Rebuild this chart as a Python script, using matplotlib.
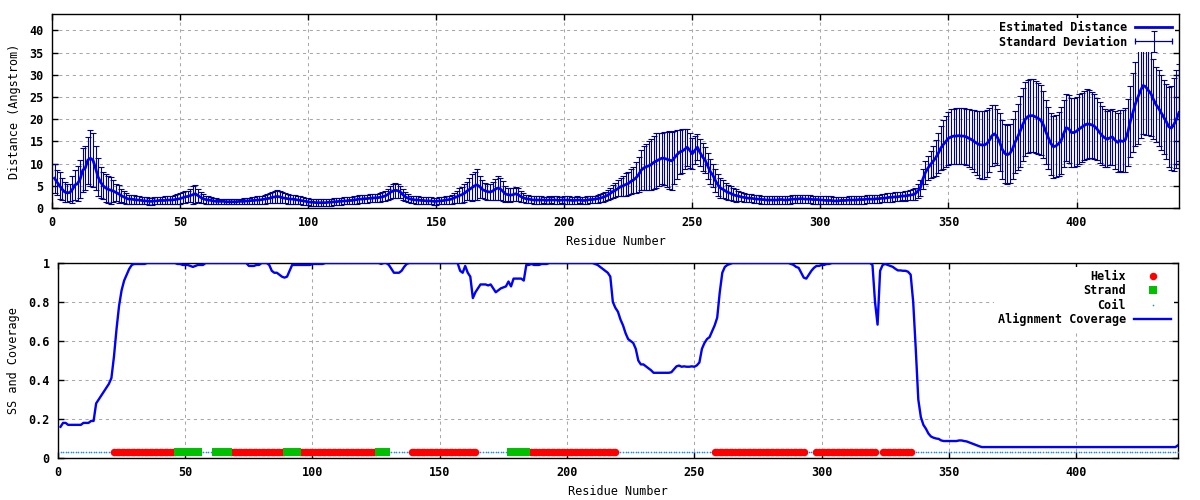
import numpy as np
import matplotlib
matplotlib.use("Agg")
import matplotlib.pyplot as plt
from matplotlib.lines import Line2D
from matplotlib.legend_handler import HandlerLine2D, HandlerErrorbar

plt.rcParams['font.family'] = ['DejaVu Sans Mono']
plt.rcParams['font.weight'] = 'bold'
plt.rcParams['font.size'] = 8.5

# residue numbers 1..440
residue = np.arange(1, 441)

# estimated distance (Angstrom), one value per residue
dist_mean = [
    6.7, 5.8, 5.0, 4.2, 3.6, 3.4, 3.5, 4.2, 5.2, 5.5,
    6.5, 8.5, 9.0, 10.8, 11.2, 10.8, 9.0, 7.0, 5.8, 5.0,
    4.5, 4.2, 4.0, 3.8, 3.5, 3.2, 2.8, 2.5, 2.2, 2.0,
    2.0, 1.9, 1.8, 1.8, 1.7, 1.6, 1.6, 1.5, 1.5, 1.6,
    1.6, 1.7, 1.7, 1.7, 1.8, 1.8, 1.8, 1.9, 2.0, 2.1,
    2.3, 2.5, 2.6, 2.8, 3.0, 3.2, 2.8, 2.4, 2.1, 1.9,
    1.8, 1.7, 1.6, 1.5, 1.5, 1.5, 1.5, 1.4, 1.4, 1.4,
    1.4, 1.4, 1.5, 1.5, 1.5, 1.6, 1.6, 1.7, 1.7, 1.8,
    1.8, 1.9, 2.0, 2.1, 2.2, 2.4, 2.5, 2.6, 2.5, 2.3,
    2.2, 2.1, 2.0, 2.0, 1.9, 1.8, 1.7, 1.6, 1.5, 1.4,
    1.3, 1.3, 1.2, 1.2, 1.2, 1.2, 1.2, 1.3, 1.3, 1.4,
    1.4, 1.5, 1.5, 1.6, 1.6, 1.7, 1.7, 1.8, 1.9, 2.0,
    2.0, 2.1, 2.1, 2.2, 2.2, 2.3, 2.3, 2.4, 2.5, 2.7,
    3.0, 3.5, 3.8, 4.0, 3.9, 3.6, 3.0, 2.5, 2.2, 2.0,
    1.9, 1.8, 1.8, 1.7, 1.7, 1.6, 1.6, 1.6, 1.5, 1.5,
    1.6, 1.6, 1.7, 1.8, 1.9, 2.0, 2.3, 2.5, 2.8, 3.0,
    3.3, 3.8, 4.2, 4.6, 5.0, 5.2, 4.8, 4.2, 3.9, 3.7,
    3.6, 3.8, 4.2, 4.5, 4.3, 3.8, 3.2, 3.0, 2.9, 3.0,
    3.2, 3.0, 2.6, 2.3, 2.1, 2.0, 1.9, 1.8, 1.8, 1.8,
    1.8, 1.8, 1.7, 1.8, 1.8, 1.8, 1.8, 1.7, 1.8, 1.8,
    1.8, 1.8, 1.7, 1.7, 1.8, 1.8, 1.7, 1.7, 1.8, 1.9,
    1.9, 2.0, 2.1, 2.2, 2.4, 2.6, 2.9, 3.3, 3.7, 4.0,
    4.4, 4.8, 5.0, 5.3, 5.5, 6.0, 6.3, 6.8, 7.5, 8.5,
    9.0, 9.3, 9.5, 9.8, 10.3, 10.6, 10.9, 11.2, 11.2, 11.0,
    10.8, 10.6, 11.3, 12.0, 12.6, 12.8, 13.2, 13.7, 13.0, 12.2,
    13.0, 13.7, 12.5, 11.5, 10.8, 9.5, 8.2, 7.4, 6.2, 5.2,
    4.5, 4.2, 3.8, 3.5, 3.3, 3.0, 2.8, 2.7, 2.5, 2.4,
    2.3, 2.2, 2.2, 2.1, 2.0, 2.0, 1.9, 1.9, 1.8, 1.8,
    1.8, 1.8, 1.8, 1.9, 1.9, 1.8, 1.8, 1.9, 2.0, 2.0,
    2.0, 2.1, 2.1, 2.0, 2.0, 2.0, 1.9, 1.9, 1.9, 1.8,
    1.8, 1.7, 1.7, 1.7, 1.6, 1.6, 1.6, 1.7, 1.7, 1.7,
    1.8, 1.8, 1.8, 1.8, 1.9, 1.9, 1.9, 2.0, 2.0, 2.0,
    2.0, 2.1, 2.1, 2.2, 2.2, 2.3, 2.4, 2.4, 2.5, 2.5,
    2.6, 2.7, 2.7, 2.8, 2.9, 3.0, 3.2, 3.8, 4.5, 6.5,
    8.0, 9.0, 9.8, 10.5, 11.3, 12.3, 13.5, 14.3, 15.0, 15.7,
    16.0, 16.2, 16.2, 16.3, 16.2, 16.2, 16.0, 15.7, 15.4, 15.0,
    14.6, 14.3, 14.2, 14.2, 14.5, 15.3, 16.3, 16.7, 16.0, 14.8,
    13.2, 12.3, 12.0, 12.3, 13.3, 14.8, 16.0, 17.3, 18.8, 20.0,
    20.6, 20.8, 20.8, 20.5, 20.2, 19.8, 18.8, 17.2, 15.8, 14.5,
    13.8, 14.0, 14.5, 15.2, 16.8, 18.1, 17.8, 17.0, 17.0, 17.3,
    17.8, 18.2, 18.6, 18.9, 18.9, 18.7, 18.4, 17.8, 17.0, 16.3,
    15.8, 15.5, 15.8, 16.0, 15.3, 14.8, 15.2, 15.0, 15.3, 17.0,
    19.5, 21.5, 23.5, 25.0, 26.5, 27.6, 27.3, 26.5, 25.8, 24.5,
    23.3, 22.5, 21.5, 20.5, 19.5, 18.3, 18.0, 18.8, 20.0, 21.5,
]

# standard deviation of the distance, one value per residue
dist_std = [
    3.3, 2.8, 3.0, 2.5, 2.2, 2.0, 2.0, 3.0, 3.3, 4.0,
    4.3, 5.0, 5.0, 5.3, 6.3, 6.0, 5.0, 4.3, 3.5, 3.0,
    3.2, 3.0, 3.0, 2.5, 2.0, 2.0, 1.5, 1.3, 1.2, 1.0,
    1.0, 1.0, 0.9, 0.9, 0.8, 0.8, 0.8, 0.8, 0.8, 0.8,
    0.8, 0.8, 0.8, 0.9, 0.9, 0.9, 1.0, 1.0, 1.1, 1.2,
    1.2, 1.3, 1.3, 1.4, 2.0, 2.0, 1.5, 1.2, 1.0, 0.9,
    0.8, 0.8, 0.7, 0.7, 0.6, 0.6, 0.6, 0.6, 0.6, 0.6,
    0.6, 0.6, 0.6, 0.6, 0.7, 0.7, 0.7, 0.8, 0.8, 0.8,
    0.9, 0.9, 1.0, 1.0, 1.1, 1.2, 1.3, 1.4, 1.3, 1.2,
    1.1, 1.1, 1.0, 1.0, 1.0, 0.9, 0.9, 0.9, 0.8, 0.8,
    0.8, 0.8, 0.8, 0.8, 0.8, 0.8, 0.8, 0.8, 0.8, 0.8,
    0.8, 0.8, 0.8, 0.8, 0.8, 0.8, 0.8, 0.9, 0.9, 0.9,
    0.9, 0.9, 0.9, 0.9, 0.9, 0.9, 0.9, 1.0, 1.0, 1.1,
    1.2, 1.4, 1.6, 1.7, 1.6, 1.4, 1.2, 1.0, 0.9, 0.8,
    0.8, 0.8, 0.8, 0.8, 0.8, 0.8, 0.8, 0.8, 0.8, 0.8,
    0.8, 0.8, 0.8, 0.9, 0.9, 1.0, 1.1, 1.3, 1.6, 1.8,
    2.0, 2.0, 2.5, 3.0, 3.2, 3.5, 2.5, 2.0, 1.8, 1.8,
    1.8, 2.0, 2.4, 2.6, 2.5, 2.2, 1.8, 1.5, 1.5, 1.5,
    1.6, 1.4, 1.2, 1.0, 0.9, 0.9, 0.8, 0.8, 0.8, 0.8,
    0.8, 0.7, 0.8, 0.8, 0.7, 0.8, 0.8, 0.8, 0.7, 0.8,
    0.8, 0.8, 0.7, 0.8, 0.8, 0.7, 0.8, 0.8, 0.8, 0.8,
    0.8, 0.8, 0.9, 0.9, 1.0, 1.0, 1.2, 1.3, 1.5, 1.6,
    1.8, 2.0, 2.2, 2.5, 2.5, 2.8, 3.0, 3.5, 4.0, 4.5,
    5.0, 5.2, 5.5, 5.8, 6.0, 6.2, 6.0, 5.8, 6.0, 6.2,
    6.5, 6.5, 6.0, 5.5, 5.0, 5.0, 4.5, 4.2, 4.0, 3.5,
    3.2, 3.0, 3.0, 3.2, 3.0, 3.0, 2.8, 2.6, 2.5, 2.4,
    2.2, 2.0, 1.8, 1.7, 1.6, 1.5, 1.4, 1.2, 1.0, 1.0,
    0.9, 0.9, 0.9, 0.9, 0.9, 0.9, 0.9, 0.9, 0.9, 0.9,
    0.9, 0.9, 0.9, 0.9, 0.9, 0.9, 0.9, 0.9, 0.9, 0.9,
    0.9, 0.9, 0.9, 0.9, 0.9, 0.9, 0.9, 0.9, 0.9, 0.9,
    0.9, 0.9, 0.9, 0.9, 0.8, 0.8, 0.8, 0.8, 0.8, 0.8,
    0.8, 0.8, 0.8, 0.8, 0.9, 0.9, 0.9, 0.9, 0.9, 0.9,
    0.9, 0.9, 0.9, 0.9, 0.9, 1.0, 1.0, 1.0, 1.0, 1.0,
    1.0, 1.0, 1.1, 1.1, 1.2, 1.2, 1.3, 1.5, 1.8, 2.2,
    2.5, 2.7, 3.0, 3.5, 4.0, 4.5, 5.0, 5.5, 5.8, 6.0,
    6.2, 6.2, 6.3, 6.3, 6.3, 6.3, 6.3, 6.5, 6.7, 7.0,
    7.2, 7.5, 7.6, 7.6, 7.5, 7.2, 6.8, 6.5, 6.4, 6.5,
    6.6, 6.6, 6.7, 6.6, 6.7, 7.0, 7.5, 8.0, 8.2, 8.3,
    8.3, 8.2, 8.2, 8.2, 8.0, 7.8, 7.5, 7.2, 7.0, 7.0,
    7.0, 7.0, 7.2, 7.5, 7.6, 7.6, 7.6, 7.7, 7.8, 7.8,
    7.8, 7.8, 7.8, 7.8, 7.6, 7.5, 7.3, 7.0, 6.8, 6.6,
    6.5, 6.3, 6.2, 6.3, 6.5, 6.7, 6.8, 7.0, 7.2, 7.5,
    8.0, 8.8, 9.5, 10.5, 10.8, 11.0, 10.8, 10.0, 9.5, 9.0,
    8.5, 8.5, 8.5, 8.3, 8.5, 9.0, 9.5, 10.5, 11.0, 11.0,
]

# alignment coverage, one value per residue
coverage = [
    0.16, 0.18, 0.18, 0.17, 0.17, 0.17, 0.17, 0.17, 0.17, 0.18,
    0.18, 0.18, 0.19, 0.19, 0.28, 0.30, 0.32, 0.34, 0.36, 0.38,
    0.41, 0.52, 0.66, 0.78, 0.86, 0.91, 0.94, 0.97, 0.99, 0.995,
    0.995, 0.995, 0.995, 0.995, 1.0, 1.0, 1.0, 1.0, 1.0, 1.0,
    1.0, 1.0, 1.0, 1.0, 1.0, 1.0, 0.995, 0.995, 0.99, 0.99,
    0.99, 0.985, 0.98, 0.985, 0.99, 0.99, 0.99, 1.0, 1.0, 1.0,
    1.0, 1.0, 1.0, 1.0, 1.0, 1.0, 1.0, 1.0, 1.0, 1.0,
    1.0, 1.0, 1.0, 1.0, 0.985, 0.985, 0.985, 0.99, 0.99, 1.0,
    1.0, 1.0, 0.99, 0.96, 0.95, 0.95, 0.94, 0.93, 0.925, 0.93,
    0.96, 0.99, 0.99, 0.99, 0.99, 0.99, 0.99, 0.99, 0.99, 0.995,
    0.995, 0.995, 0.995, 0.995, 1.0, 1.0, 1.0, 1.0, 1.0, 1.0,
    1.0, 1.0, 1.0, 1.0, 1.0, 1.0, 1.0, 1.0, 1.0, 1.0,
    1.0, 1.0, 1.0, 1.0, 1.0, 1.0, 0.995, 1.0, 1.0, 0.99,
    0.97, 0.95, 0.95, 0.95, 0.96, 0.98, 0.995, 1.0, 1.0, 1.0,
    1.0, 1.0, 1.0, 1.0, 1.0, 1.0, 1.0, 1.0, 1.0, 1.0,
    1.0, 1.0, 1.0, 1.0, 1.0, 1.0, 1.0, 0.96, 0.95, 0.985,
    0.95, 0.93, 0.82, 0.85, 0.87, 0.89, 0.89, 0.89, 0.885, 0.89,
    0.87, 0.85, 0.86, 0.87, 0.875, 0.88, 0.905, 0.88, 0.92, 0.92,
    0.92, 0.92, 0.91, 0.99, 0.99, 0.995, 0.99, 0.99, 0.99, 0.995,
    0.995, 0.995, 1.0, 1.0, 1.0, 1.0, 1.0, 1.0, 1.0, 1.0,
    1.0, 1.0, 1.0, 1.0, 1.0, 1.0, 1.0, 1.0, 1.0, 1.0,
    0.995, 0.99, 0.98, 0.97, 0.96, 0.95, 0.93, 0.80, 0.77, 0.75,
    0.71, 0.68, 0.64, 0.61, 0.60, 0.59, 0.56, 0.50, 0.48, 0.48,
    0.47, 0.46, 0.45, 0.437, 0.437, 0.437, 0.437, 0.437, 0.437, 0.437,
    0.44, 0.455, 0.47, 0.474, 0.468, 0.47, 0.468, 0.468, 0.47, 0.468,
    0.475, 0.49, 0.56, 0.59, 0.61, 0.62, 0.65, 0.68, 0.72, 0.85,
    0.95, 0.98, 0.99, 0.995, 1.0, 1.0, 1.0, 1.0, 1.0, 1.0,
    1.0, 1.0, 1.0, 1.0, 1.0, 1.0, 1.0, 1.0, 1.0, 1.0,
    1.0, 1.0, 1.0, 1.0, 1.0, 1.0, 1.0, 0.995, 0.99, 0.98,
    0.975, 0.95, 0.925, 0.92, 0.94, 0.96, 0.975, 0.985, 0.985, 0.99,
    0.99, 0.995, 0.995, 1.0, 1.0, 1.0, 1.0, 1.0, 1.0, 1.0,
    1.0, 1.0, 1.0, 1.0, 1.0, 1.0, 1.0, 1.0, 1.0, 0.99,
    0.80, 0.684, 0.96, 0.99, 0.995, 0.99, 0.985, 0.98, 0.97, 0.962,
    0.962, 0.96, 0.96, 0.955, 0.94, 0.80, 0.56, 0.30, 0.21, 0.17,
    0.15, 0.125, 0.11, 0.104, 0.10, 0.098, 0.09, 0.087, 0.087, 0.087,
    0.087, 0.087, 0.087, 0.09, 0.09, 0.087, 0.085, 0.08, 0.075, 0.07,
    0.065, 0.06, 0.056, 0.056, 0.056, 0.056, 0.056, 0.056, 0.056, 0.056,
    0.056, 0.056, 0.056, 0.056, 0.056, 0.056, 0.056, 0.056, 0.056, 0.056,
    0.056, 0.056, 0.056, 0.056, 0.056, 0.056, 0.056, 0.056, 0.056, 0.056,
    0.056, 0.056, 0.056, 0.056, 0.056, 0.056, 0.056, 0.056, 0.056, 0.056,
    0.056, 0.056, 0.056, 0.056, 0.056, 0.056, 0.056, 0.056, 0.056, 0.056,
    0.056, 0.056, 0.056, 0.056, 0.056, 0.056, 0.056, 0.056, 0.056, 0.056,
    0.056, 0.056, 0.056, 0.056, 0.056, 0.056, 0.056, 0.056, 0.056, 0.056,
    0.056, 0.056, 0.056, 0.056, 0.056, 0.056, 0.056, 0.056, 0.056, 0.065,
]

# secondary structure segments (first, last residue)
helix_ranges = [(22, 46), (68, 89), (95, 125), (139, 164), (186, 219),
                (258, 293), (298, 321), (324, 335)]
strand_ranges = [(47, 55), (62, 67), (90, 94), (126, 129), (178, 184)]
ss_level = 0.033

ss = np.array(['C'] * len(residue))
for a, b in helix_ranges:
    ss[(residue >= a) & (residue <= b)] = 'H'
for a, b in strand_ranges:
    ss[(residue >= a) & (residue <= b)] = 'E'

grid_kw = dict(color='#a8a8a8', linestyle=(0, (3, 3.5)), linewidth=0.75)


def style_axes(ax):
    ax.tick_params(direction='in', top=True, right=True, length=4, width=1, pad=6)
    for s in ax.spines.values():
        s.set_linewidth(1.0)
    ax.grid(True, **grid_kw)
    ax.set_axisbelow(True)


fig = plt.figure(figsize=(12, 5), dpi=100)

# ---- top: distance with error bars
ax1 = fig.add_axes([0.0433, 0.584, 0.9392, 0.388])
eb = ax1.errorbar(residue, dist_mean, yerr=dist_std, fmt='none', ecolor='#000090',
                  elinewidth=0.8, capsize=2.5, capthick=0.8, zorder=2)
line1, = ax1.plot(residue, dist_mean, color='#0000e6', lw=2.0, zorder=3)
ax1.set_xlim(0, 440)
ax1.set_ylim(0, 43.7)
ax1.set_xticks(range(0, 401, 50))
ax1.set_yticks(range(0, 41, 5))
style_axes(ax1)
ax1.set_ylabel('Distance (Angstrom)', labelpad=6)
ax1.set_xlabel('Residue Number', labelpad=4)

eb_proxy = Line2D([], [], color='#000090', lw=0.9, marker='|', markersize=5,
                  markeredgewidth=0.9)
leg1 = ax1.legend([line1, (eb_proxy, eb)], ['Estimated Distance', 'Standard Deviation'],
                  loc='upper right', markerfirst=False, handlelength=3.1,
                  handletextpad=0.7, labelspacing=0.12, borderpad=0.3,
                  borderaxespad=0.3, frameon=True, fancybox=False,
                  handler_map={eb_proxy: HandlerLine2D(numpoints=2, marker_pad=0),
                               type(eb): HandlerErrorbar(numpoints=1, xerr_size=0, yerr_size=0.9)})
leg1.get_frame().set_edgecolor('none')
leg1.get_frame().set_facecolor('white')
leg1.get_frame().set_alpha(1)

# ---- bottom: secondary structure and coverage
ax2 = fig.add_axes([0.0483, 0.084, 0.9333, 0.39])
coil_pts, = ax2.plot(residue[ss == 'C'], np.full((ss == 'C').sum(), ss_level), linestyle='none',
                     marker='o', ms=1.2, mew=0, color='#1a8cff', zorder=3)
helix_pts, = ax2.plot(residue[ss == 'H'], np.full((ss == 'H').sum(), ss_level), linestyle='none',
                      marker='o', ms=5.4, mew=0, color='#ff0000', zorder=3)
strand_pts, = ax2.plot(residue[ss == 'E'], np.full((ss == 'E').sum(), ss_level), linestyle='none',
                       marker='s', ms=5.2, mew=0, color='#00c000', zorder=3)
cov_line, = ax2.plot(residue, coverage, color='#0000ff', lw=1.7, zorder=4)
ax2.set_xlim(0, 440)
ax2.set_ylim(0, 1)
ax2.set_xticks(range(0, 401, 50))
ax2.set_yticks([0, 0.2, 0.4, 0.6, 0.8, 1])
ax2.set_yticklabels(['0', '0.2', '0.4', '0.6', '0.8', '1'])
style_axes(ax2)
ax2.set_ylabel('SS and Coverage', labelpad=6, fontweight='normal')
ax2.set_xlabel('Residue Number', labelpad=4)

leg2 = ax2.legend([helix_pts, strand_pts, coil_pts, cov_line],
                  ['Helix', 'Strand', 'Coil', 'Alignment Coverage'],
                  loc='upper right', markerfirst=False, handlelength=3.1,
                  handletextpad=0.7, labelspacing=0.12, borderpad=0.3,
                  borderaxespad=0.3, numpoints=1, frameon=True, fancybox=False)
leg2.get_frame().set_edgecolor('none')
leg2.get_frame().set_facecolor('white')
leg2.get_frame().set_alpha(1)

fig.savefig('out.png', dpi=100)
